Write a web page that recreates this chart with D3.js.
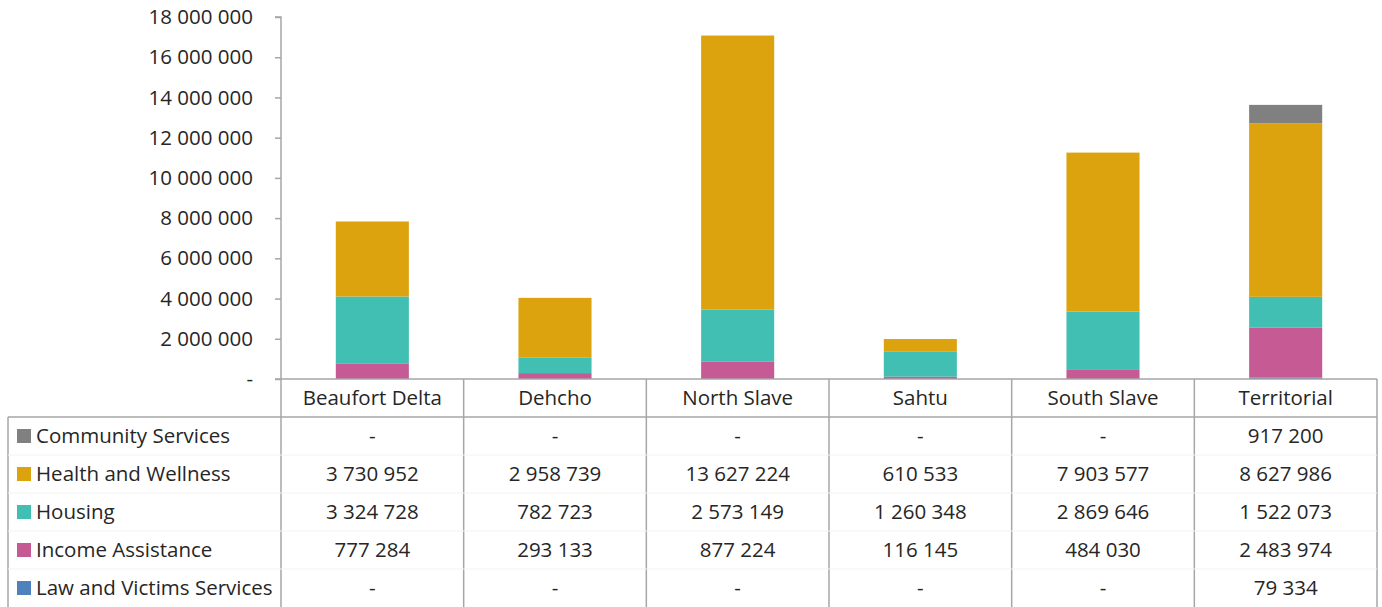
<!DOCTYPE html>
<html>
<head>
<meta charset="utf-8">
<script src="https://cdn.jsdelivr.net/npm/d3@7"></script>
<style>
  body { margin: 0; background: #fff; }
  svg { display: block; }
  text { font-family: "Open Sans", "Noto Sans", sans-serif; fill: #262626; }
</style>
</head>
<body>
<svg width="1382" height="607"></svg>

<script>

var regions = ["Beaufort Delta", "Dehcho", "North Slave", "Sahtu", "South Slave", "Territorial"];

// legend/table order, top to bottom
var programs = ["Community Services", "Health and Wellness", "Housing", "Income Assistance", "Law and Victims Services"];

var communityServices = [0, 0, 0, 0, 0, 917200];
var healthWellness    = [3730952, 2958739, 13627224, 610533, 7903577, 8627986];
var housing           = [3324728, 782723, 2573149, 1260348, 2869646, 1522073];
var incomeAssistance  = [777284, 293133, 877224, 116145, 484030, 2483974];
var lawVictims        = [0, 0, 0, 0, 0, 79334];

var yTicks = [0, 2000000, 4000000, 6000000, 8000000, 10000000, 12000000, 14000000, 16000000, 18000000];

var colors = {
  "Community Services": "#808080",
  "Health and Wellness": "#dca30f",
  "Housing": "#41bfb3",
  "Income Assistance": "#c55a94",
  "Law and Victims Services": "#4f81bd"
};

var seriesValues = {
  "Community Services": communityServices,
  "Health and Wellness": healthWellness,
  "Housing": housing,
  "Income Assistance": incomeAssistance,
  "Law and Victims Services": lawVictims
};

(function() {
  var rows = regions.map(function(r, i) {
    var o = {region: r};
    programs.forEach(function(p) { o[p] = seriesValues[p][i]; });
    return o;
  });

  var svg = d3.select("svg"),
      plotLeft = 281, plotRight = 1377, plotTop = 17, plotBottom = 379,
      tableLeft = 8, headerBottom = 417, rowH = 38,
      lineColor = "#a6a6a6", fontSize = 20.5;

  var fmt = function(v) {
    return v === 0 ? "-" : d3.format(",")(v).replace(/,/g, " ");
  };

  var x = d3.scaleBand().domain(regions).range([plotLeft, plotRight]);
  var y = d3.scaleLinear().domain([0, 18000000]).range([plotBottom, plotTop]);

  // stack from bottom: law, income, housing, health, community
  var stack = d3.stack().keys(programs.slice().reverse());

  svg.append("g")
    .selectAll("g")
    .data(stack(rows))
    .enter().append("g")
      .attr("fill", function(d) { return colors[d.key]; })
    .selectAll("rect")
    .data(function(d) { return d; })
    .enter().append("rect")
      .attr("x", function(d) { return x(d.data.region) + x.bandwidth() * 0.3; })
      .attr("width", x.bandwidth() * 0.4)
      .attr("y", function(d) { return y(d[1]); })
      .attr("height", function(d) { return y(d[0]) - y(d[1]); });

  // y axis
  var yAxis = svg.append("g")
    .attr("transform", "translate(" + plotLeft + ",0)")
    .call(d3.axisLeft(y).tickValues(yTicks).tickSize(6).tickPadding(22)
      .tickFormat(function(v) { return fmt(v); }));
  yAxis.selectAll("path, line").attr("stroke", lineColor).attr("stroke-width", 1.5);
  yAxis.select(".domain").attr("d", "M-6," + plotTop + "H0V" + plotBottom);
  yAxis.selectAll("text").attr("font-size", fontSize).attr("font-family", "Open Sans").attr("fill", "#262626");

  // table grid
  var grid = svg.append("g").attr("stroke", lineColor).attr("stroke-width", 1.5).attr("fill", "none");
  var tableBottom = headerBottom + rowH * programs.length;

  grid.append("line").attr("x1", plotLeft - 6).attr("x2", plotRight).attr("y1", plotBottom).attr("y2", plotBottom);
  grid.append("line").attr("x1", tableLeft).attr("x2", plotRight).attr("y1", headerBottom).attr("y2", headerBottom);
  grid.append("line").attr("x1", tableLeft).attr("x2", tableLeft).attr("y1", headerBottom).attr("y2", tableBottom);

  grid.selectAll(".col")
    .data(regions.concat(["end"]))
    .enter().append("line")
      .attr("x1", function(d) { return d === "end" ? plotRight : x(d); })
      .attr("x2", function(d) { return d === "end" ? plotRight : x(d); })
      .attr("y1", plotBottom)
      .attr("y2", tableBottom);

  // faint row dividers
  svg.append("g").selectAll("line")
    .data(programs.slice(1))
    .enter().append("line")
      .attr("x1", tableLeft).attr("x2", plotRight)
      .attr("y1", function(d, i) { return headerBottom + rowH * (i + 1); })
      .attr("y2", function(d, i) { return headerBottom + rowH * (i + 1); })
      .attr("stroke", "#f3f3f3");

  // header labels
  svg.append("g").selectAll("text")
    .data(regions)
    .enter().append("text")
      .attr("x", function(d) { return x(d) + x.bandwidth() / 2; })
      .attr("y", (plotBottom + headerBottom) / 2)
      .attr("dy", "0.35em")
      .attr("text-anchor", "middle")
      .attr("font-size", fontSize)
      .text(function(d) { return d; });

  // legend rows with values
  var row = svg.append("g").selectAll("g")
    .data(programs)
    .enter().append("g")
      .attr("transform", function(d, i) { return "translate(0," + (headerBottom + rowH * i + rowH / 2) + ")"; });

  row.append("rect")
    .attr("x", 17).attr("y", -7)
    .attr("width", 14).attr("height", 14)
    .attr("fill", function(d) { return colors[d]; });

  row.append("text")
    .attr("x", 36)
    .attr("dy", "0.35em")
    .attr("font-size", fontSize)
    .text(function(d) { return d; });

  row.selectAll(".val")
    .data(function(p) { return seriesValues[p].map(function(v, i) { return {v: v, region: regions[i]}; }); })
    .enter().append("text")
      .attr("x", function(d) { return x(d.region) + x.bandwidth() / 2; })
      .attr("dy", "0.35em")
      .attr("text-anchor", "middle")
      .attr("font-size", fontSize)
      .text(function(d) { return fmt(d.v); });
})();

</script>
</body>
</html>
